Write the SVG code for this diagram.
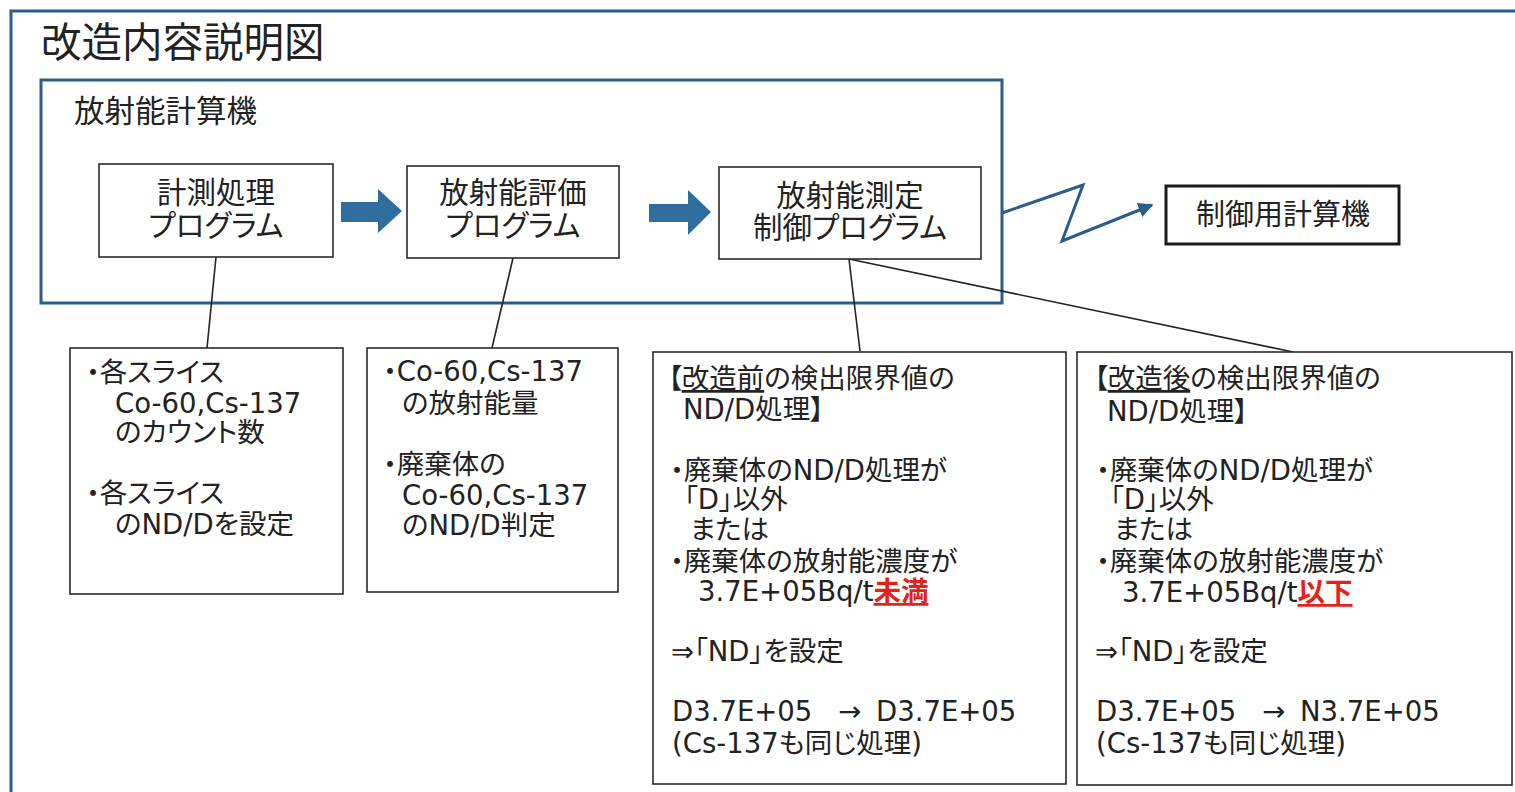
<svg xmlns="http://www.w3.org/2000/svg" width="1515" height="792" viewBox="0 0 1515 792">
<defs>
<style>
text{font-family:"DejaVu Sans","Noto Sans CJK JP",sans-serif;fill:#222;font-feature-settings:"palt";}
.cjk{font-family:"Noto Sans CJK JP",sans-serif;}
.frame{fill:none;stroke:#2b5d88;stroke-width:3;}
.box{fill:#fff;stroke:#2a2a2a;stroke-width:1.6;}
.conn{fill:none;stroke:#222;stroke-width:1.6;}
.blk{fill:#2f6e9f;}
.t28{font-size:29.5px;}
.t27{font-size:27.5px;}
.red{fill:#e2231a;font-weight:bold;text-decoration:underline;}
.ul{text-decoration:underline;}
</style>
<marker id="ah" viewBox="0 0 10 10" refX="9" refY="5" markerWidth="5" markerHeight="5" orient="auto" markerUnits="strokeWidth">
<path d="M0 0 L10 5 L0 10 Z" fill="#2b5d88"/>
</marker>
</defs>
<rect width="1515" height="792" fill="#fff"/>
<path class="frame" d="M11 792 V11 H1515"/>
<text x="41" y="57" class="cjk" style="font-size:40.5px">改造内容説明図</text>

<g id="calc-frame">
<rect class="frame" x="41" y="80" width="961" height="223"/>
<text x="74" y="122" class="cjk" style="font-size:30.5px">放射能計算機</text>
</g>

<g id="connectors">
<line class="conn" x1="216" y1="257" x2="207" y2="348"/>
<line class="conn" x1="513" y1="258" x2="492" y2="348"/>
<line class="conn" x1="849" y1="259" x2="860" y2="351"/>
<line class="conn" x1="849" y1="259" x2="1293" y2="352"/>
<path class="blk" d="M341 202 H378 V189 L402 211 L378 233 V222 H341 Z"/>
<path class="blk" d="M649 204 H688 V190 L711 212 L688 235 V222 H649 Z"/>
<polyline points="1002,213 1083,185 1062,241 1152,205" fill="none" stroke="#2b5d88" stroke-width="3" marker-end="url(#ah)"/>
</g>

<g id="n-keisoku">
<rect class="box" x="99" y="164" width="234" height="93"/>
<text class="t28" x="216" y="203" text-anchor="middle">計測処理</text>
<text class="t28" x="216" y="236" text-anchor="middle">プログラム</text>
</g>

<g id="n-hyoka">
<rect class="box" x="407" y="166" width="212" height="92"/>
<text class="t28" x="513" y="203" text-anchor="middle">放射能評価</text>
<text class="t28" x="513" y="236" text-anchor="middle">プログラム</text>
</g>

<g id="n-sokutei">
<rect class="box" x="719" y="167" width="262" height="92"/>
<text class="t28" x="850" y="206" text-anchor="middle">放射能測定</text>
<text class="t28" x="850" y="238" text-anchor="middle">制御プログラム</text>
</g>

<g id="n-seigyo">
<rect x="1166" y="186" width="233" height="58" fill="#fff" stroke="#1a1a1a" stroke-width="3"/>
<text x="1283" y="225" text-anchor="middle" style="font-size:29px">制御用計算機</text>
</g>

<g id="n-note1">
<rect class="box" x="70" y="348" width="273" height="246"/>
<text class="t27" x="86" y="382">・各スライス</text>
<text class="t27" x="115" y="413">Co-60,Cs-137</text>
<text class="t27" x="115" y="442">のカウント数</text>
<text class="t27" x="86" y="503">・各スライス</text>
<text class="t27" x="115" y="534">のND/Dを設定</text>
</g>

<g id="n-note2">
<rect class="box" x="367" y="348" width="251" height="244"/>
<text class="t27" x="383" y="381">・Co-60,Cs-137</text>
<text class="t27" x="402" y="413">の放射能量</text>
<text class="t27" x="383" y="474">・廃棄体の</text>
<text class="t27" x="402" y="505">Co-60,Cs-137</text>
<text class="t27" x="402" y="535">のND/D判定</text>
</g>

<g id="n-before">
<rect class="box" x="653" y="352" width="413" height="432"/>
<text class="t27" x="668" y="388">【<tspan class="ul">改造前</tspan>の検出限界値の</text>
<text class="t27" x="683" y="419">ND/D処理】</text>
<text class="t27" x="670" y="480">・廃棄体のND/D処理が</text>
<text class="t27" x="684" y="509">「D」以外</text>
<text class="t27" x="690" y="539">または</text>
<text class="t27" x="670" y="571">・廃棄体の放射能濃度が</text>
<text class="t27" x="698" y="601">3.7E+05Bq/t<tspan class="red">未満</tspan></text>
<text class="t27" x="671" y="661">⇒「ND」を設定</text>
<text class="t27" x="672" y="721">D3.7E+05</text>
<text class="t27" x="838" y="721">→</text>
<text class="t27" x="876" y="721">D3.7E+05</text>
<text class="t27" x="672" y="753">(Cs-137も同じ処理)</text>
</g>

<g id="n-after">
<rect class="box" x="1077" y="352" width="435" height="433"/>
<text class="t27" x="1094" y="388">【<tspan class="ul">改造後</tspan>の検出限界値の</text>
<text class="t27" x="1107" y="421">ND/D処理】</text>
<text class="t27" x="1096" y="480">・廃棄体のND/D処理が</text>
<text class="t27" x="1110" y="509">「D」以外</text>
<text class="t27" x="1114" y="539">または</text>
<text class="t27" x="1096" y="571">・廃棄体の放射能濃度が</text>
<text class="t27" x="1122" y="602">3.7E+05Bq/t<tspan class="red">以下</tspan></text>
<text class="t27" x="1095" y="661">⇒「ND」を設定</text>
<text class="t27" x="1096" y="721">D3.7E+05</text>
<text class="t27" x="1262" y="721">→</text>
<text class="t27" x="1300" y="721">N3.7E+05</text>
<text class="t27" x="1096" y="753">(Cs-137も同じ処理)</text>
</g>
</svg>
